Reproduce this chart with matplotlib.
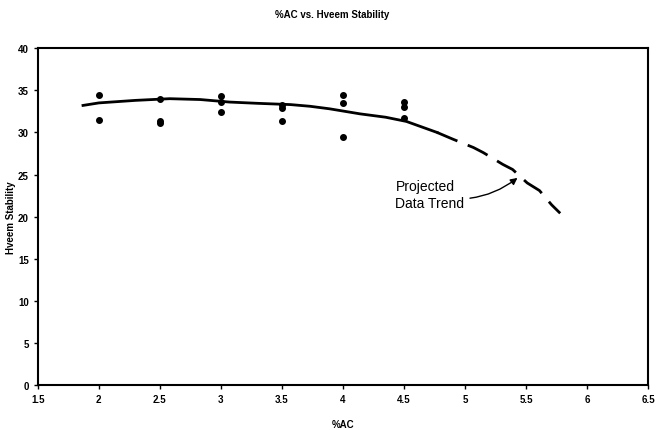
import matplotlib.pyplot as plt

plt.rcParams['font.family'] = ['Liberation Sans', 'DejaVu Sans']

# measured data
ac = [2, 2, 2.5, 2.5, 2.5, 3, 3, 3, 3.5, 3.5, 3.5, 4, 4, 4, 4.5, 4.5, 4.5]
stability = [34.4, 31.5, 34.0, 31.4, 31.1, 34.3, 33.6, 32.4,
             33.3, 32.9, 31.4, 34.4, 33.5, 29.4, 33.6, 33.0, 31.7]

# trend line (solid part, then projected part)
trend_x = [1.87, 2.0, 2.3, 2.58, 2.83, 3.07, 3.3, 3.57, 3.73, 3.89, 4.14, 4.35, 4.52, 4.77]
trend_y = [33.2, 33.5, 33.8, 34.0, 33.9, 33.6, 33.45, 33.3, 33.1, 32.8, 32.2, 31.8, 31.3, 30.0]
proj_x = [4.77, 4.90, 5.07, 5.15, 5.31, 5.39, 5.51, 5.61, 5.71, 5.78]
proj_y = [30.0, 29.2, 28.2, 27.6, 26.2, 25.6, 24.0, 23.1, 21.4, 20.4]

fig = plt.figure(figsize=(6.64, 4.31), dpi=100)
ax = fig.add_axes([0.057, 0.104, 0.919, 0.782])

ax.plot(trend_x, trend_y, color='black', linewidth=2)
ax.plot(proj_x, proj_y, color='black', linewidth=2, dashes=(8, 4))
ax.scatter(ac, stability, marker='o', s=16, color='black', zorder=3)

ax.annotate('Projected\nData Trend', xy=(5.43, 24.6), xytext=(4.43, 22.6),
            fontsize=10, ha='left', va='center', linespacing=1.3,
            arrowprops=dict(arrowstyle='-|>', color='black', lw=1,
                            connectionstyle='arc3,rad=0.25', shrinkA=2, shrinkB=0))

ax.set_xlim(1.5, 6.5)
ax.set_ylim(0, 40)
ax.set_xticks([1.5, 2, 2.5, 3, 3.5, 4, 4.5, 5, 5.5, 6, 6.5])
ax.set_xticklabels(['1.5', '2', '2.5', '3', '3.5', '4', '4.5', '5', '5.5', '6', '6.5'])
ax.set_yticks(range(0, 41, 5))
ax.tick_params(labelsize=7, length=3, width=1, direction='out')
for lbl in ax.get_xticklabels() + ax.get_yticklabels():
    lbl.set_fontweight('bold')
for sp in ax.spines.values():
    sp.set_linewidth(1.5)

ax.set_xlabel('%AC', fontsize=7, fontweight='bold')
ax.set_ylabel('Hveem Stability', fontsize=7, fontweight='bold')
ax.xaxis.set_label_coords(0.5, -0.1)
ax.yaxis.set_label_coords(-0.036, 0.5)
fig.text(0.5, 0.965, '%AC vs. Hveem Stability', ha='center', va='center',
         fontsize=7, fontweight='bold')

fig.savefig('out.png', dpi=100)
